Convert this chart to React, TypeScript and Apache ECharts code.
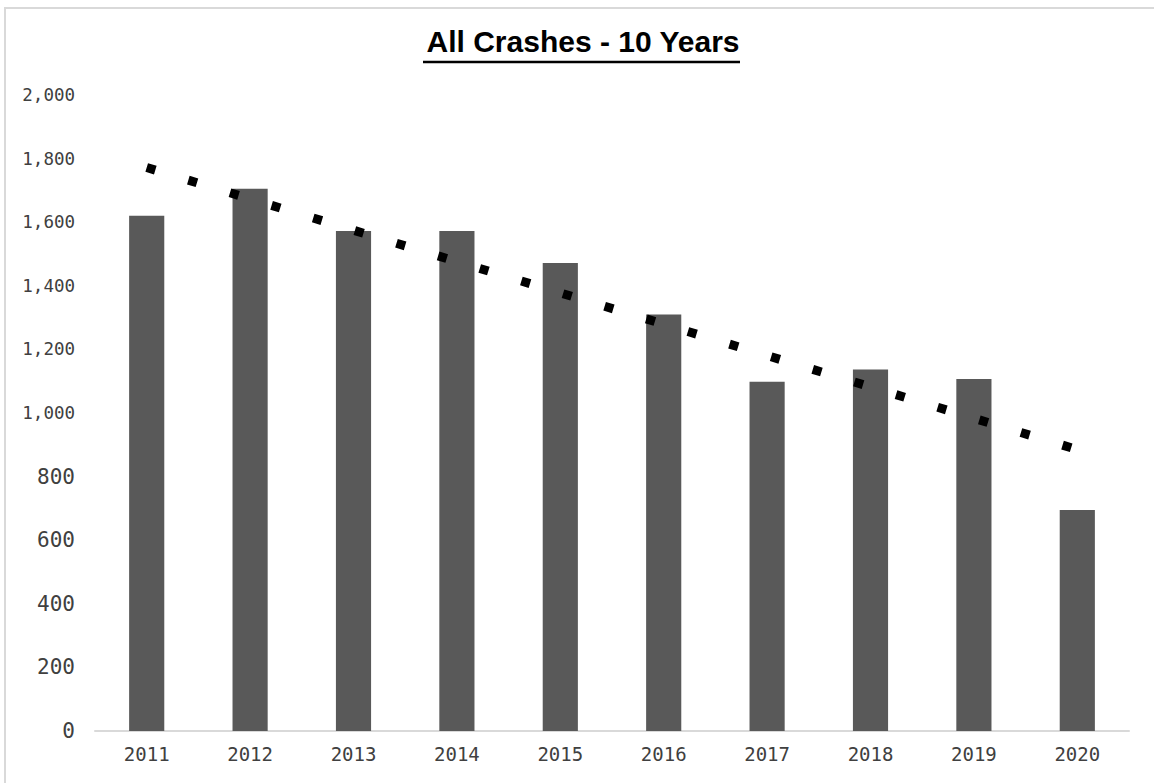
import React, { useEffect, useRef } from "react";
import * as echarts from "echarts";

const categories = ["2011", "2012", "2013", "2014", "2015", "2016", "2017", "2018", "2019", "2020"];
const crashes = [1620, 1705, 1572, 1572, 1472, 1310, 1098, 1137, 1107, 695];
// Linear trend line: value read at the first and last category
const trend = [1772, null, null, null, null, null, null, null, null, 885];
const yTicks = { min: 0, max: 2000, interval: 200 };
const titleText = "All Crashes - 10 Years";

export default function App() {
  const ref = useRef<HTMLDivElement>(null);
  useEffect(() => {
    if (!ref.current) return;
    const chart = echarts.init(ref.current, null, { renderer: "svg" });
    const fmt = (v: number) => v.toLocaleString("en-US");
    chart.setOption({
      animation: false,
      backgroundColor: "#ffffff",
      title: {
        text: titleText,
        left: 578,
        textAlign: "center",
        top: 21,
        textStyle: {
          fontFamily: "Liberation Sans, Arial, sans-serif",
          fontWeight: "bold",
          fontSize: 30,
          color: "#000000",
        },
      },
      graphic: [
        {
          type: "rect",
          shape: { x: 5, y: 8, width: 1170, height: 800 },
          style: { fill: "none", stroke: "#d9d9d9", lineWidth: 2 },
          silent: true,
        },
        {
          type: "line",
          shape: { x1: 423, y1: 62, x2: 740, y2: 62 },
          style: { stroke: "#000000", lineWidth: 2.5 },
          silent: true,
        },
      ],
      grid: { left: 95, right: 25, top: 95, bottom: 52, containLabel: false },
      xAxis: {
        type: "category",
        data: categories,
        boundaryGap: true,
        axisLine: { show: true, lineStyle: { color: "#d9d9d9", width: 2 } },
        axisTick: { show: false },
        axisLabel: {
          margin: 13,
          fontFamily: "DejaVu Sans Mono, monospace",
          fontSize: 19,
          color: "#404040",
        },
        splitLine: { show: false },
      },
      yAxis: {
        type: "value",
        min: yTicks.min,
        max: yTicks.max,
        interval: yTicks.interval,
        axisLine: { show: false },
        axisTick: { show: false },
        splitLine: { show: false },
        axisLabel: {
          margin: 20,
          formatter: (v: number) => (v >= 1000 ? `{s|${fmt(v)}}` : `{b|${fmt(v)}}`),
          rich: {
            s: { fontFamily: "DejaVu Sans Mono, monospace", fontSize: 17.5, color: "#404040" },
            b: { fontFamily: "DejaVu Sans Mono, monospace", fontSize: 21, color: "#404040" },
          },
        },
      },
      series: [
        {
          type: "bar",
          data: crashes,
          barWidth: "34%",
          itemStyle: { color: "#595959" },
          z: 2,
        },
        {
          type: "line",
          data: trend,
          connectNulls: true,
          symbol: "none",
          lineStyle: { color: "#000000", width: 9, type: [9, 34.5], cap: "butt" },
          z: 3,
        },
      ],
    });
    return () => chart.dispose();
  }, []);
  return (
    <div
      ref={ref}
      style={{ position: "absolute", left: 0, top: 0, width: 1154, height: 783 }}
    />
  );
}
